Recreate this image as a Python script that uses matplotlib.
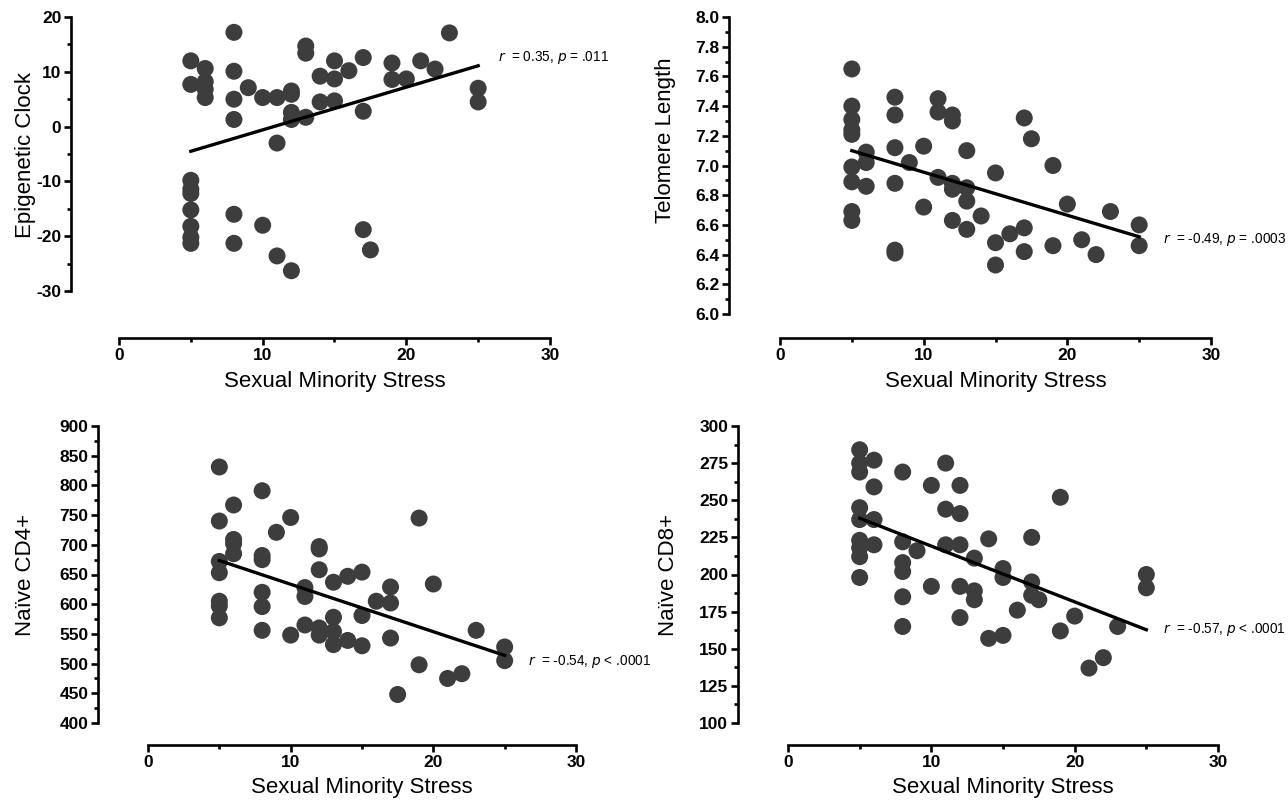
import matplotlib
matplotlib.use('Agg')
import matplotlib.pyplot as plt
from matplotlib.ticker import MultipleLocator, FormatStrFormatter

plt.rcParams['axes.unicode_minus'] = False
plt.rcParams['mathtext.fontset'] = 'custom'
plt.rcParams['mathtext.it'] = 'Liberation Sans Narrow:italic'
plt.rcParams['mathtext.rm'] = 'Liberation Sans Narrow'

W, H = 1288, 801

# Sexual minority stress (x) shared label
x_label = 'Sexual Minority Stress'

# Panel 1: epigenetic clock
epi_x = [5, 5, 5, 5, 5, 5, 5, 5, 6, 6, 6, 6, 8, 8, 8, 8, 8, 8, 9, 10, 10,
         11, 11, 11, 12, 12, 12, 12, 12, 13, 13, 13, 14, 14, 15, 15, 15, 16,
         17, 17, 17, 17.5, 19, 19, 20, 21, 22, 23, 25, 25, 5]
epi_y = [12.0, 7.7, -9.8, -11.4, -12.2, -15.2, -18.2, -20.2, 10.6, 8.2, 6.8,
         5.3, 17.2, 10.1, 5.0, 1.3, -16.0, -21.3, 7.1, 5.3, -18.0, 5.3, -3.0,
         -23.6, 6.5, 5.9, 2.6, 1.3, -26.3, 14.7, 13.4, 1.7, 9.2, 4.5, 12.0,
         8.7, 4.7, 10.2, 12.6, 2.8, -18.8, -22.5, 11.6, 8.6, 8.7, 12.0, 10.5,
         17.1, 7.0, 4.5, -21.3]
epi_fit_x = [5, 25]
epi_fit_y = [-4.5, 11.1]

# Panel 2: telomere length
tel_x = [5, 5, 5, 5, 5, 5, 5, 5, 5, 6, 6, 6, 8, 8, 8, 8, 8, 8, 9, 10, 10,
         11, 11, 11, 12, 12, 12, 12, 12, 13, 13, 13, 13, 14, 15, 15, 15, 16,
         17, 17, 17, 17.5, 19, 19, 20, 21, 22, 23, 25, 25]
tel_y = [7.65, 7.40, 7.31, 7.24, 7.21, 6.99, 6.89, 6.69, 6.63, 7.09, 7.02,
         6.86, 7.46, 7.34, 7.12, 6.88, 6.43, 6.41, 7.02, 7.13, 6.72, 7.45,
         7.36, 6.92, 7.34, 7.30, 6.88, 6.84, 6.63, 7.10, 6.85, 6.76, 6.57,
         6.66, 6.95, 6.48, 6.33, 6.54, 7.32, 6.58, 6.42, 7.18, 7.00, 6.46,
         6.74, 6.50, 6.40, 6.69, 6.60, 6.46]
tel_fit_x = [5, 25]
tel_fit_y = [7.10, 6.52]

# Panel 3: naive CD4+
cd4_x = [5, 5, 5, 5, 5, 5, 5, 6, 6, 6, 6, 8, 8, 8, 8, 8, 8, 9, 10, 10,
         11, 11, 11, 12, 12, 12, 12, 12, 13, 13, 13, 13, 14, 14, 15, 15, 15,
         16, 17, 17, 17, 17.5, 19, 19, 20, 21, 22, 23, 25, 25]
cd4_y = [831, 740, 672, 653, 605, 597, 577, 767, 709, 702, 685, 791, 682,
         675, 620, 596, 556, 721, 746, 548, 628, 613, 565, 697, 693, 658,
         560, 548, 637, 578, 554, 532, 647, 539, 654, 581, 530, 605, 629,
         602, 543, 448, 745, 498, 634, 475, 483, 556, 528, 505]
cd4_fit_x = [5, 25]
cd4_fit_y = [673.5, 513.8]

# Panel 4: naive CD8+
cd8_x = [5, 5, 5, 5, 5, 5, 5, 5, 5, 6, 6, 6, 6, 8, 8, 8, 8, 8, 8, 9, 10,
         10, 11, 11, 11, 12, 12, 12, 12, 12, 13, 13, 13, 14, 14, 15, 15, 15,
         16, 17, 17, 17, 17.5, 19, 19, 20, 21, 22, 23, 25, 25]
cd8_y = [284, 275, 269, 245, 237, 223, 218, 212, 198, 277, 259, 237, 220,
         269, 222, 208, 202, 185, 165, 216, 260, 192, 275, 244, 220, 260,
         241, 220, 192, 171, 211, 189, 183, 224, 157, 204, 198, 159, 176,
         225, 195, 186, 183, 252, 162, 172, 137, 144, 165, 200, 191]
cd8_fit_x = [5, 25]
cd8_fit_y = [237.9, 162.8]

panels = [
    dict(x=epi_x, y=epi_y, fx=epi_fit_x, fy=epi_fit_y, label='Epigenetic Clock',
         ylim=(-30, 20), major=10, minor=5, fmt='%d',
         note=r'$\it{r}$  = 0.35, $\it{p}$ = .011',
         box=(119, 550, 17, 291), spine_x=71, axis_y=338,
         ylab=(26, 155), note_xy=(498, 57)),
    dict(x=tel_x, y=tel_y, fx=tel_fit_x, fy=tel_fit_y, label='Telomere Length',
         ylim=(6.0, 8.0), major=0.2, minor=0.1, fmt='%.1f',
         note=r'$\it{r}$  = -0.49, $\it{p}$ = .0003',
         box=(780, 1211, 17, 314), spine_x=729, axis_y=338,
         ylab=(666, 140), note_xy=(1163, 239)),
    dict(x=cd4_x, y=cd4_y, fx=cd4_fit_x, fy=cd4_fit_y, label='Naïve CD4+',
         ylim=(400, 900), major=50, minor=25, fmt='%d',
         note=r'$\it{r}$  = -0.54, $\it{p}$ < .0001',
         box=(148, 576, 426, 723), spine_x=98, axis_y=745,
         ylab=(26, 575), note_xy=(528, 661)),
    dict(x=cd8_x, y=cd8_y, fx=cd8_fit_x, fy=cd8_fit_y, label='Naïve CD8+',
         ylim=(100, 300), major=25, minor=12.5, fmt='%d',
         note=r'$\it{r}$  = -0.57, $\it{p}$ < .0001',
         box=(788, 1218, 426, 723), spine_x=738, axis_y=745,
         ylab=(668, 575), note_xy=(1163, 630)),
]

fig = plt.figure(figsize=(W / 100, H / 100), dpi=100)
tick_font = dict(family=['Liberation Sans Narrow', 'Liberation Sans'], weight='bold', size=12.5)

for p in panels:
    x0, x1, y0, y1 = p['box']
    ax = fig.add_axes([x0 / W, 1 - y1 / H, (x1 - x0) / W, (y1 - y0) / H])

    ax.scatter(p['x'], p['y'], s=150, color='#3d3d3d', edgecolors='none',
               zorder=3, clip_on=False)
    ax.plot(p['fx'], p['fy'], color='black', linewidth=2.4, zorder=4)

    ax.set_xlim(0, 30)
    ax.set_ylim(*p['ylim'])
    ax.xaxis.set_major_locator(MultipleLocator(10))
    ax.xaxis.set_minor_locator(MultipleLocator(5))
    ax.yaxis.set_major_locator(MultipleLocator(p['major']))
    ax.yaxis.set_minor_locator(MultipleLocator(p['minor']))
    ax.yaxis.set_major_formatter(FormatStrFormatter(p['fmt']))

    for s in ['top', 'right']:
        ax.spines[s].set_visible(False)
    ax.spines['left'].set_position(('outward', (x0 - p['spine_x']) * 0.72))
    ax.spines['bottom'].set_position(('outward', (p['axis_y'] - y1) * 0.72))
    ax.spines['left'].set_linewidth(1.9)
    ax.spines['bottom'].set_linewidth(1.9)
    ax.spines['bottom'].set_bounds(0, 30)

    ax.tick_params(which='major', direction='out', length=5, width=1.9, pad=2)
    ax.tick_params(which='minor', direction='out', length=3, width=1.9)
    for lab in ax.get_xticklabels() + ax.get_yticklabels():
        lab.set_fontproperties(matplotlib.font_manager.FontProperties(**tick_font))

    # axis titles placed in pixel positions
    fig.text(p['ylab'][0] / W, 1 - p['ylab'][1] / H, p['label'], rotation=90,
             ha='center', va='center', fontsize=16, family='Liberation Sans')
    fig.text(((x0 + x1) / 2) / W, 1 - (p['axis_y'] + 43) / H, x_label,
             ha='center', va='center', fontsize=16, family='Liberation Sans')
    fig.text(p['note_xy'][0] / W, 1 - p['note_xy'][1] / H, p['note'],
             ha='left', va='center', fontsize=9.8,
             family=['Liberation Sans Narrow', 'Liberation Sans'])

fig.savefig('out.png', dpi=100)
